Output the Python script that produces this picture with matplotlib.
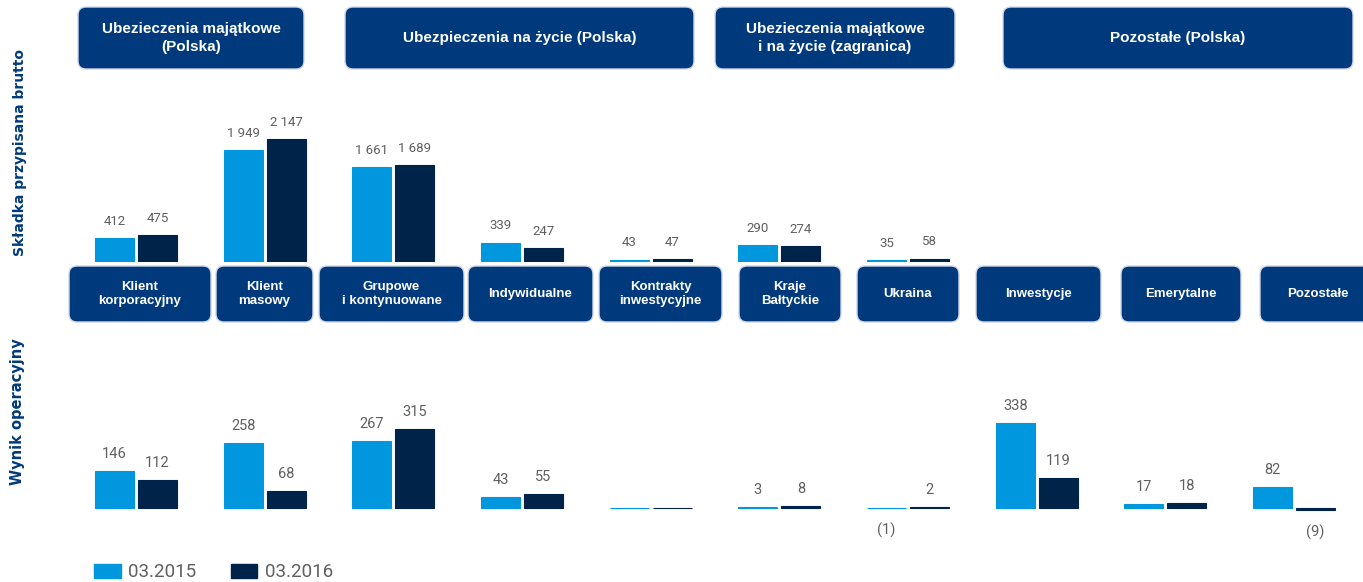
import numpy as np
import matplotlib.pyplot as plt
from matplotlib.patches import FancyBboxPatch, Patch

# dane (mln zł)
segmenty = ["Klient\nkorporacyjny", "Klient\nmasowy", "Grupowe\ni kontynuowane", "Indywidualne",
            "Kontrakty\ninwestycyjne", "Kraje\nBałtyckie", "Ukraina", "Inwestycje", "Emerytalne", "Pozostałe"]
grupy = ["Ubezieczenia majątkowe\n(Polska)", "Ubezpieczenia na życie (Polska)",
         "Ubezieczenia majątkowe\ni na życie (zagranica)", "Pozostałe (Polska)"]
serie = ["03.2015", "03.2016"]

skladka_2015 = [412, 1949, 1661, 339, 43, 290, 35, np.nan, np.nan, np.nan]
skladka_2016 = [475, 2147, 1689, 247, 47, 274, 58, np.nan, np.nan, np.nan]
wynik_2015 = [146, 258, 267, 43, 0, 3, -1, 338, 17, 82]
wynik_2016 = [112, 68, 315, 55, 0, 8, 2, 119, 18, -9]

# styl
JASNY = "#0097DF"
CIEMNY = "#00234A"
BOX = "#003A7D"
SZARY = "#5f5f5f"
CYFRY = ["Roboto", "DejaVu Sans"]
W, H = 1363, 582

# układ (piksele)
grupy_box = [(78, 304), (345, 694), (715, 955), (1003, 1353)]
seg_box = [(69, 211), (216, 313), (319, 464), (468, 593), (599, 722),
           (739, 841), (857, 959), (976, 1101), (1121, 1241), (1260, 1375)]

fig = plt.figure(figsize=(W / 100, H / 100), dpi=100)
over = fig.add_axes([0, 0, 1, 1])
over.set_xlim(0, W)
over.set_ylim(H, 0)
over.axis("off")


def px_axes(left, top, right, bottom):
    return fig.add_axes([left / W, 1 - bottom / H, (right - left) / W, (bottom - top) / H])


def box(x0, x1, y0, y1, text, size):
    over.add_patch(FancyBboxPatch((x0, y0), x1 - x0, y1 - y0,
                                  boxstyle="round,pad=0,rounding_size=8",
                                  fc=BOX, ec="#d0d8e8", lw=1))
    over.text((x0 + x1) / 2, (y0 + y1) / 2, text, ha="center", va="center",
              color="white", fontsize=size, fontweight="bold",
              family="Liberation Sans", linespacing=1.3)


for (x0, x1), t in zip(grupy_box, grupy):
    box(x0, x1, 7, 69, t, 11)
for (x0, x1), t in zip(seg_box, segmenty):
    box(x0, x1, 266, 322, t, 9.5)

x = np.arange(len(segmenty))
c0, step = 136, 128.67
left = c0 - 0.55 * step
right = c0 + 9.5 * step
bw = 0.303
off = 0.167


def fmt(v):
    v = int(round(v))
    if v < 0:
        return f"({abs(v)})"
    return f"{v:,}".replace(",", " ")


def rysuj(ax, a, b, size):
    a = np.array(a, dtype=float)
    b = np.array(b, dtype=float)
    for vals, dx, col in [(a, -off, JASNY), (b, off, CIEMNY)]:
        m = ~np.isnan(vals)
        ax.bar(x[m] + dx, vals[m], width=bw, color=col, edgecolor=col, linewidth=0.8)
        for xi, v in zip(x[m] + dx, vals[m]):
            if v == 0:
                continue
            if v > 0:
                ax.annotate(fmt(v), (xi, v), xytext=(0, 9.5), textcoords="offset points",
                            ha="center", va="baseline", fontsize=size, color=SZARY, family=CYFRY)
            else:
                ax.annotate(fmt(v), (xi, v), xytext=(0, -16), textcoords="offset points",
                            ha="center", va="center", fontsize=size, color=SZARY, family=CYFRY)
    ax.set_xlim(-0.55, 9.5)
    ax.axis("off")
    ax.patch.set_alpha(0)


ax1 = px_axes(left, 100, right, 262)
rysuj(ax1, skladka_2015, skladka_2016, 9.5)
ax1.set_ylim(0, 162 / 0.0573)

ax2 = px_axes(left, 380, right, 545)
rysuj(ax2, wynik_2015, wynik_2016, 10.5)
ax2.set_ylim(-37 / 0.251, 128 / 0.251)

fig.text(20 / W, 1 - 153 / H, "Składka przypisana brutto", rotation=90, ha="center", va="center",
         color=BOX, fontsize=10, fontweight="bold", family="DejaVu Sans")
fig.text(18 / W, 1 - 412 / H, "Wynik operacyjny", rotation=90, ha="center", va="center",
         color=BOX, fontsize=10.5, fontweight="bold", family="DejaVu Sans")

uchwyty = [Patch(color=JASNY), Patch(color=CIEMNY)]
fig.legend(uchwyty, serie, loc="lower left", bbox_to_anchor=(83 / W, -0.018), ncol=2, frameon=False,
           prop={"family": CYFRY, "size": 13.5}, labelcolor=SZARY, handlelength=1.4,
           handleheight=0.75, handletextpad=0.4, columnspacing=1.85, borderaxespad=0.2)

fig.savefig("out.png", dpi=100)
